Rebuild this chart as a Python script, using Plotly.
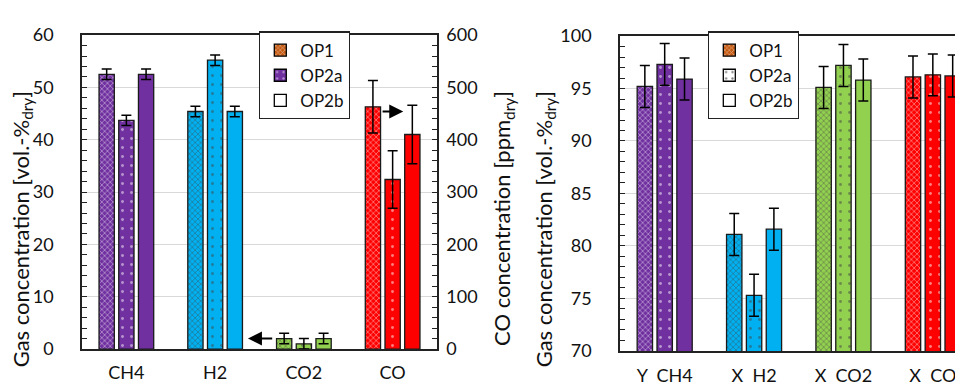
import plotly.graph_objects as go

# ---------------- data ----------------
gases = ["CH4", "H2", "CO2", "CO"]
series = ["OP1", "OP2a", "OP2b"]

# left chart: vol.-% dry (CO in ppm on secondary axis)
left_pct = {
    "OP1":  [52.5, 45.4, 2.0],
    "OP2a": [43.7, 55.2, 1.0],
    "OP2b": [52.5, 45.4, 2.0],
}
left_pct_err = {
    "OP1":  [1.0, 1.0, 1.0],
    "OP2a": [1.0, 1.0, 1.0],
    "OP2b": [1.0, 1.0, 1.0],
}
co_ppm = {"OP1": 463, "OP2a": 324, "OP2b": 410}
co_ppm_err = {"OP1": 50, "OP2a": 55, "OP2b": 56}

# right chart
right_labels = ["Y  CH4", "X  H2", "X  CO2", "X  CO"]
right_vals = {
    "OP1":  [95.2, 81.1, 95.1, 96.1],
    "OP2a": [97.3, 75.3, 97.2, 96.3],
    "OP2b": [95.9, 81.6, 95.8, 96.2],
}
right_err = {
    "OP1":  [2.0, 2.0, 2.0, 2.0],
    "OP2a": [2.0, 2.0, 2.0, 2.0],
    "OP2b": [2.0, 2.0, 2.0, 2.0],
}

# ---------------- style ----------------
gas_colors = ["#7030A0", "#00B0F0", "#92D050", "#FF0000"]
FONT = "Lato"
W, H = 963, 385
BW = 0.172
offsets = {"OP1": -0.308, "OP2a": -0.086, "OP2b": 0.136}


def pattern_for(s):
    if s == "OP1":
        return dict(shape="x", fgcolor="white", size=4, solidity=0.35, fillmode="overlay")
    if s == "OP2a":
        return dict(shape=".", fgcolor="white", size=9, solidity=0.08, fillmode="overlay")
    return dict(shape="")


err_style = dict(type="data", color="black", thickness=1.5, width=5)
bar_line = dict(color="#1a1a1a", width=1.3)

fig = go.Figure()

# left chart, % axis
for s in series:
    fig.add_trace(go.Bar(
        x=gases[:3], y=left_pct[s],
        error_y=dict(array=left_pct_err[s], **err_style),
        marker=dict(color=gas_colors[:3], line=bar_line, pattern=pattern_for(s)),
        width=BW, offset=offsets[s], showlegend=False,
        xaxis="x", yaxis="y",
    ))
# left chart, CO ppm axis
for s in series:
    fig.add_trace(go.Bar(
        x=[gases[3]], y=[co_ppm[s]],
        error_y=dict(array=[co_ppm_err[s]], **err_style),
        marker=dict(color=[gas_colors[3]], line=bar_line, pattern=pattern_for(s)),
        width=BW, offset=offsets[s], showlegend=False,
        xaxis="x", yaxis="y2",
    ))
# right chart
for s in series:
    fig.add_trace(go.Bar(
        x=right_labels, y=right_vals[s],
        error_y=dict(array=right_err[s], **err_style),
        marker=dict(color=gas_colors, line=bar_line, pattern=pattern_for(s)),
        width=BW, offset=offsets[s], showlegend=False,
        xaxis="x2", yaxis="y3",
    ))

# legend-only dummy traces
leg_left = {
    "OP1": dict(color="#C55A11", pattern=dict(shape="x", fgcolor="white", size=4, solidity=0.35, fillmode="overlay")),
    "OP2a": dict(color="#7030A0", pattern=dict(shape=".", fgcolor="white", size=8, solidity=0.1, fillmode="overlay")),
    "OP2b": dict(color="white"),
}
leg_right = {
    "OP1": dict(color="#C55A11", pattern=dict(shape="x", fgcolor="white", size=4, solidity=0.35, fillmode="overlay")),
    "OP2a": dict(color="white", pattern=dict(shape=".", fgcolor="black", size=8, solidity=0.1, fillmode="overlay")),
    "OP2b": dict(color="white"),
}
for s in series:
    fig.add_trace(go.Bar(x=[None], y=[None], name=s, legend="legend",
                         marker=dict(line=dict(color="black", width=1.3), **leg_left[s]),
                         xaxis="x", yaxis="y"))
for s in series:
    fig.add_trace(go.Bar(x=[None], y=[None], name=s, legend="legend2",
                         marker=dict(line=dict(color="black", width=1.3), **leg_right[s]),
                         xaxis="x2", yaxis="y3"))

tickfont = dict(family=FONT, size=18, color="#111")
axline = dict(showline=True, linecolor="#222", linewidth=1.5, zeroline=False)
legfont = dict(family=FONT, size=17, color="#111")
titlefont = dict(family=FONT, size=22, color="#111")

fig.update_layout(
    width=W, height=H,
    margin=dict(l=0, r=0, t=0, b=0),
    paper_bgcolor="white", plot_bgcolor="white",
    barmode="overlay",
    font=dict(family=FONT, size=18, color="#111"),
    xaxis=dict(domain=[74 / W, 429 / W], type="category", categoryarray=gases,
               range=[-0.5, 3.5], mirror=True, ticks="", tickfont=tickfont,
               ticklabelstandoff=7, showgrid=False, **axline),
    yaxis=dict(domain=[1 - 349 / H, 1 - 16 / H], range=[0, 60], dtick=10,
               showgrid=True, gridcolor="#D9D9D9", gridwidth=1,
               ticks="inside", ticklen=5, tickcolor="#222", tickfont=tickfont,
               ticklabelstandoff=23,
               minor=dict(dtick=2, ticks="inside", ticklen=5, tickcolor="#222", showgrid=False),
               **axline),
    yaxis2=dict(overlaying="y", side="right", anchor="x", range=[0, 600], dtick=100,
                showgrid=False, ticks="inside", ticklen=5, tickcolor="#222",
                tickfont=tickfont, ticklabelstandoff=4,
                minor=dict(dtick=20, ticks="inside", ticklen=5, tickcolor="#222"),
                **axline),
    xaxis2=dict(domain=[612 / W, 1.0], type="category", categoryarray=right_labels,
                range=[-0.5, 3.427], mirror=True, ticks="", tickfont=tickfont,
                ticklabelstandoff=8, showgrid=False, anchor="y3", **axline),
    yaxis3=dict(domain=[1 - 351 / H, 1 - 17 / H], range=[70, 100], dtick=5,
                anchor="x2", showgrid=True, gridcolor="#D9D9D9", gridwidth=1,
                ticks="inside", ticklen=5, tickcolor="#222", tickfont=tickfont,
                ticklabelstandoff=23,
                minor=dict(dtick=1, ticks="inside", ticklen=5, tickcolor="#222", showgrid=False),
                **axline),
    legend=dict(x=251 / W, y=1 - 12 / H, xanchor="left", yanchor="top",
                bordercolor="#222", borderwidth=1.3, bgcolor="white",
                font=legfont, tracegroupgap=0),
    legend2=dict(x=700 / W, y=1 - 12 / H, xanchor="left", yanchor="top",
                 bordercolor="#222", borderwidth=1.3, bgcolor="white",
                 font=legfont, tracegroupgap=0),
    annotations=[
        dict(text="Gas concentration [vol.-%<sub>dry</sub>]", textangle=-90,
             xref="paper", yref="paper", x=14 / W, y=1 - 222 / H,
             xanchor="center", yanchor="middle",
             showarrow=False, font=titlefont),
        dict(text="CO concentration [ppm<sub>dry</sub>]", textangle=-90,
             xref="paper", yref="paper", x=495 / W, y=1 - 210 / H,
             xanchor="center", yanchor="middle",
             showarrow=False, font=titlefont),
        dict(text="Gas concentration [vol.-%<sub>dry</sub>]", textangle=-90,
             xref="paper", yref="paper", x=537 / W, y=1 - 222 / H,
             xanchor="center", yanchor="middle",
             showarrow=False, font=titlefont),
        # arrows
        dict(x=1.37, y=2.0, ax=1.66, ay=2.0, xref="x", yref="y", axref="x", ayref="y",
             text="", showarrow=True, arrowhead=2, arrowsize=1.4, arrowwidth=2, arrowcolor="black"),
        dict(x=3.12, y=45.4, ax=2.87, ay=45.4, xref="x", yref="y", axref="x", ayref="y",
             text="", showarrow=True, arrowhead=2, arrowsize=1.4, arrowwidth=2, arrowcolor="black"),
    ],
)

fig.write_html("out.html")
